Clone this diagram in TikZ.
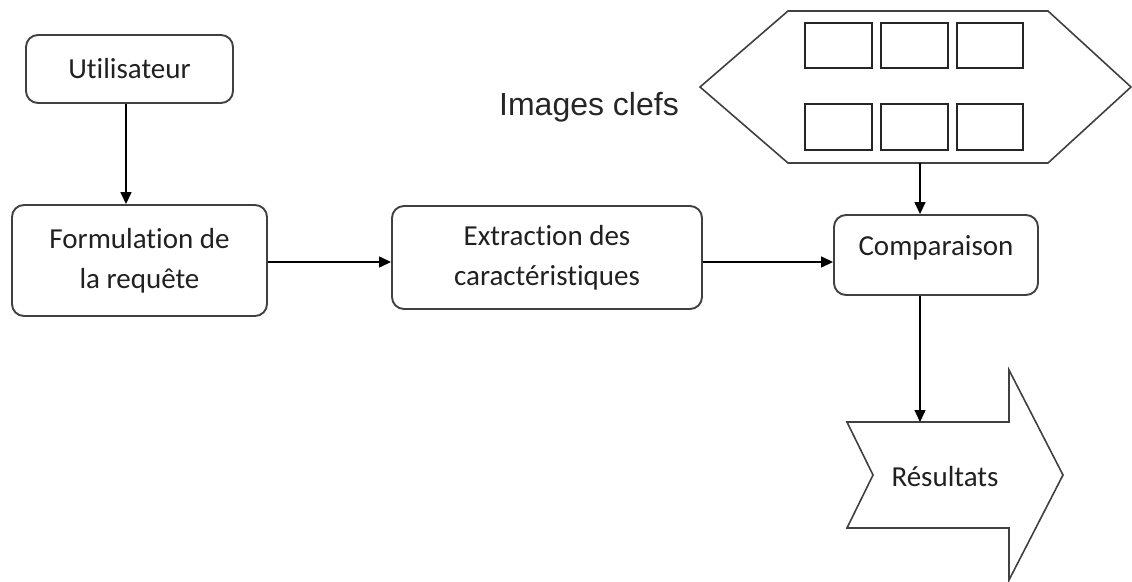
\documentclass[tikz,border=0pt]{standalone}
\usepackage{fontspec}
\setmainfont[Ligatures=NoCommon]{Carlito}
\newfontfamily\arialfont{Liberation Sans}
\usetikzlibrary{arrows.meta}
\definecolor{edgegray}{HTML}{404040}
\definecolor{txtgray}{HTML}{202020}
\begin{document}
\begin{tikzpicture}[x=1pt,y=-1pt,
  box/.style={draw=edgegray,line width=1.9pt,rounded corners=12pt,align=center,
    inner sep=0pt,font=\fontsize{29}{40}\selectfont,text=txtgray},
  conn/.style={line width=1.4pt,-{Triangle[width=11pt,length=12pt]}},
  shapeline/.style={draw=edgegray,line width=1.6pt,line join=miter},
  thumb/.style={draw=black!85,line width=1.6pt}]
\path[use as bounding box] (0,0) rectangle (1132,581);
% nodes
\node[box,minimum width=207pt,minimum height=68pt] (user) at (129.5,69) {Utilisateur};
\node[box,minimum width=255pt,minimum height=111pt] (form) at (139.5,260.5) {Formulation de\\la requête};
\node[box,minimum width=310pt,minimum height=103pt] (extr) at (547,257.5) {Extraction des\\caractéristiques};
\node[box,minimum width=204pt,minimum height=80pt] (comp) at (936,255) {};
\node[font=\fontsize{29}{35}\selectfont,text=txtgray] (comptxt) at (936,248) {Comparaison};
% hexagon with key images
\draw[shapeline] (700,87) -- (788,11) -- (1048,11) -- (1131,87) -- (1048,163) -- (788,163) -- cycle;
\foreach \x/\w in {805/67,881/67,957/66}{
  \draw[thumb] (\x,23) rectangle ++(\w,45);
  \draw[thumb] (\x,104) rectangle ++(\w,46);
}
\coordinate (hexb) at (920,163);
\node[font=\arialfont\fontsize{32}{36}\selectfont,text=black!85] (keys) at (589,107) {Images clefs};
% result arrow
\draw[shapeline,fill=white] (847,422) -- (1009,422) -- (1009,370) -- (1063,475) -- (1009,580) -- (1009,528) -- (847,528) -- (873,475) -- cycle;
\coordinate (restop) at (920,422);
\node[font=\fontsize{29}{35}\selectfont,text=txtgray] (res) at (945,477) {Résultats};
% connectors
\draw[conn] (user.south -| 126,0) -- (form.north -| 126,0);
\draw[conn] (form.east |- 0,262) -- (extr.west |- 0,262);
\draw[conn] (extr.east |- 0,262) -- (comp.west |- 0,262);
\draw[conn] (hexb) -- (comp.north -| hexb);
\draw[conn] (comp.south -| restop) -- (restop);
\end{tikzpicture}
\end{document}
